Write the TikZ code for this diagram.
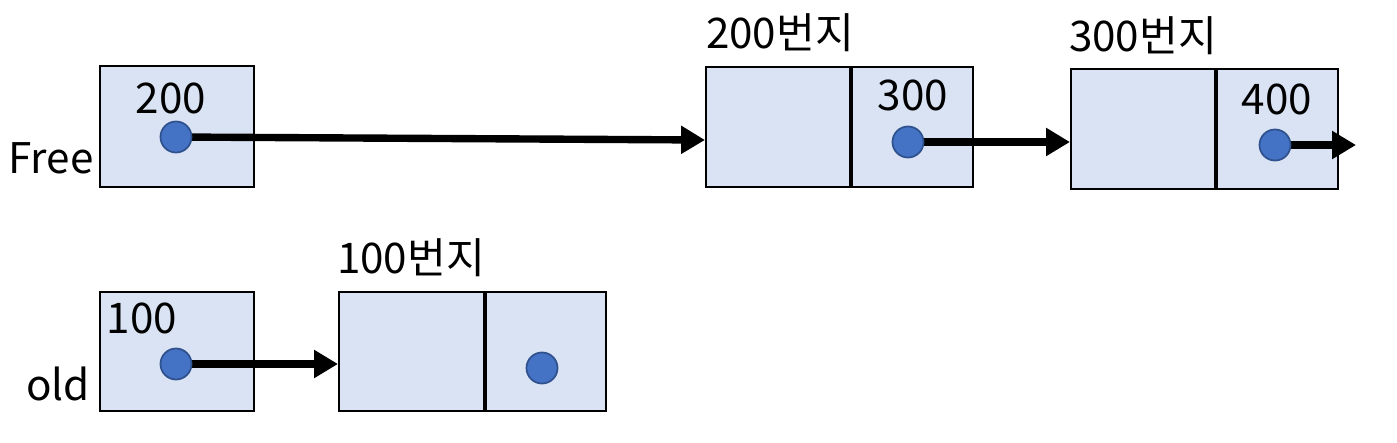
\documentclass[tikz,border=0pt]{standalone}
\usepackage{fontspec}
\setmainfont{Noto Sans CJK KR}
\usetikzlibrary{arrows.meta}
\definecolor{boxfill}{HTML}{DAE3F3}
\definecolor{dotfill}{HTML}{4472C4}
\definecolor{dotline}{HTML}{2F528F}
\tikzset{
  cell/.style={draw, line width=0.6pt, fill=boxfill, inner sep=0pt, anchor=north west, minimum height=1.2cm},
  divider/.style={line width=1.2pt},
  dot/.style={circle, fill=dotfill, draw=dotline, line width=0.5pt, minimum size=0.31cm, inner sep=0pt},
  lbl/.style={font=\fontsize{12}{14}\selectfont, inner sep=0pt},
  ptr/.style={line width=2.1pt, -{Triangle[length=6.8pt,width=7.6pt]}}
}
\begin{document}
\begin{tikzpicture}[x=0.01cm,y=-0.01cm]
\useasboundingbox (0,0) rectangle (1397,443);
% boxes
\node[cell, minimum width=1.54cm, minimum height=1.21cm] (free) at (99,65) {};
\node[cell, minimum width=1.44cm] (b200a) at (705,66) {};
\node[cell, minimum width=1.23cm] (b200b) at (849,66) {};
\node[cell, minimum width=1.44cm] (b300a) at (1070,68) {};
\node[cell, minimum width=1.23cm] (b300b) at (1214,68) {};
\node[cell, minimum width=1.54cm, minimum height=1.19cm] (old) at (99,291) {};
\node[cell, minimum width=1.45cm, minimum height=1.19cm] (b100a) at (338,291) {};
\node[cell, minimum width=1.22cm, minimum height=1.19cm] (b100b) at (483,291) {};
\draw[divider] (b200a.north east) -- (b200a.south east);
\draw[divider] (b300a.north east) -- (b300a.south east);
\draw[divider] (b100a.north east) -- (b100a.south east);
% labels
\node[lbl] (tfree) at (51,158) {Free};
\node[lbl] (told) at (58,384) {old};
\node[lbl] (v200) at (171,98) {200};
\node[lbl] (v300) at (913,95) {300};
\node[lbl] (v400) at (1277,99) {400};
\node[lbl] (v100) at (142,318) {100};
\node[lbl] (a200) at (780,33) {200번지};
\node[lbl] (a300) at (1143,36) {300번지};
\node[lbl] (a100) at (411,258) {100번지};
% end points
\coordinate (e1) at (705,140);
\coordinate (e2) at (1070,142);
\coordinate (e3) at (1356,145);
\coordinate (e4) at (338,364);
% arrows
\draw[ptr] (176,137) coordinate (s1) -- (e1);
\draw[ptr] (908,142) coordinate (s2) -- (e2);
\draw[ptr] (1275,145) coordinate (s3) -- (e3);
\draw[ptr] (176,364) coordinate (s4) -- (e4);
% dots
\node[dot] (dfree) at (s1) {};
\node[dot] (d200) at (s2) {};
\node[dot] (d300) at (s3) {};
\node[dot] (dold) at (s4) {};
\node[dot] (d100) at (542,368) {};
\end{tikzpicture}
\end{document}
